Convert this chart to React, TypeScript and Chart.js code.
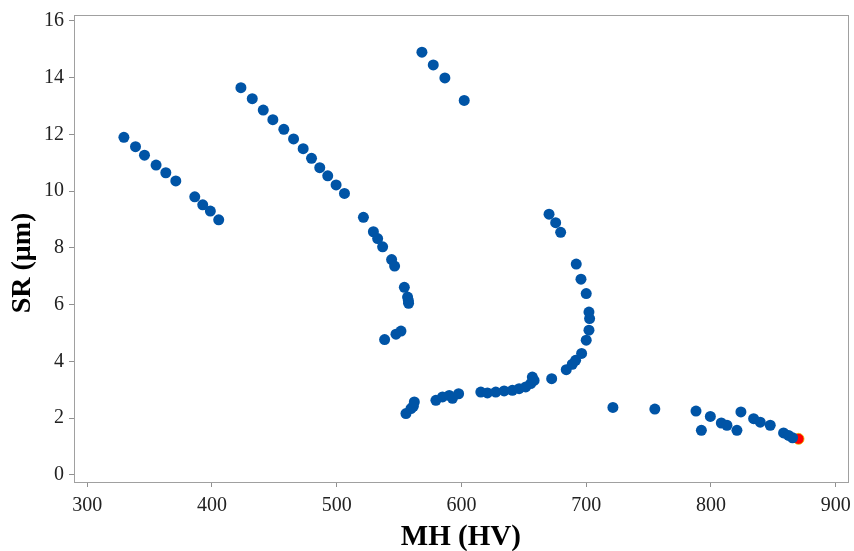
import React, { useEffect, useRef } from "react";
import { Chart, registerables } from "chart.js";

Chart.register(...registerables);

const mhValues: number[] = [
  329.4, 338.7, 345.9, 355.2, 363.0, 371.0, 386.2, 392.6, 398.7, 405.4,
  423.2, 432.3, 441.1, 448.8, 457.6, 465.4, 473.1, 479.8, 486.4, 492.8, 499.5, 506.2,
  521.4, 529.4, 532.8, 536.8, 544.0, 546.4, 554.2, 556.8, 557.4, 557.6,
  538.4, 547.5, 551.5,
  568.3, 577.4, 586.7, 602.2,
  555.5, 559.5, 561.4, 562.2,
  579.5, 584.8, 590.2, 592.8, 597.7, 615.5, 620.8, 627.5, 634.2, 640.8, 646.2, 651.5, 655.5, 656.8, 658.2,
  672.3, 684.0, 688.8, 691.5, 696.3, 700.0, 702.2, 702.7, 702.2, 700.0, 695.8, 692.0, 679.5, 675.5, 670.2,
  721.4, 755.0, 788.0, 792.3, 799.5, 808.3, 812.8, 820.8, 824.0, 834.2, 839.5, 847.5, 858.2, 862.2, 865.4,
];

const srValues: number[] = [
  11.90, 11.57, 11.27, 10.92, 10.65, 10.36, 9.80, 9.52, 9.30, 8.99,
  13.65, 13.26, 12.86, 12.52, 12.18, 11.84, 11.50, 11.16, 10.83, 10.54, 10.22, 9.92,
  9.08, 8.57, 8.33, 8.04, 7.59, 7.36, 6.61, 6.27, 6.15, 6.05,
  4.77, 4.96, 5.07,
  14.90, 14.45, 13.99, 13.20,
  2.16, 2.34, 2.42, 2.57,
  2.63, 2.75, 2.80, 2.70, 2.86, 2.92, 2.89, 2.92, 2.96, 2.98, 3.04, 3.10, 3.22, 3.45, 3.33,
  3.39, 3.71, 3.90, 4.04, 4.28, 4.75, 5.10, 5.51, 5.74, 6.39, 6.90, 7.43, 8.55, 8.89, 9.19,
  2.38, 2.32, 2.25, 1.57, 2.06, 1.83, 1.75, 1.57, 2.22, 1.98, 1.86, 1.75, 1.48, 1.39, 1.31,
];

const optimumMH: number[] = [870.2];
const optimumSR: number[] = [1.27];

const xTickValues: number[] = [300, 400, 500, 600, 700, 800, 900];
const yTickValues: number[] = [0, 2, 4, 6, 8, 10, 12, 14, 16];

const xTitle = "MH (HV)";
const yTitle = "SR (μm)";

const serif = "'Liberation Serif', 'Times New Roman', serif";

const frame = {
  id: "frame",
  afterDraw(chart: any) {
    const { ctx, chartArea } = chart;
    ctx.save();
    ctx.strokeStyle = "#a0a0a0";
    ctx.lineWidth = 1;
    ctx.strokeRect(
      Math.round(chartArea.left) + 0.5,
      Math.round(chartArea.top) + 0.5,
      Math.round(chartArea.right - chartArea.left),
      Math.round(chartArea.bottom - chartArea.top)
    );
    // y axis title
    ctx.translate(23, 263);
    ctx.rotate(-Math.PI / 2);
    ctx.fillStyle = "#000";
    ctx.font = `bold 28px ${serif}`;
    ctx.textAlign = "center";
    ctx.textBaseline = "middle";
    ctx.fillText(yTitle, 0, 0);
    ctx.restore();
  },
};

export default function App() {
  const ref = useRef<HTMLCanvasElement | null>(null);

  useEffect(() => {
    if (!ref.current) return;
    const blue = mhValues.map((x, i) => ({ x, y: srValues[i] }));
    const red = optimumMH.map((x, i) => ({ x, y: optimumSR[i] }));
    const chart = new Chart(ref.current, {
      type: "scatter",
      data: {
        datasets: [
          {
            data: blue,
            backgroundColor: "#0054a6",
            borderWidth: 0,
            pointRadius: 5.5,
          },
          {
            data: red,
            backgroundColor: "#ff0000",
            borderColor: "#e8c000",
            borderWidth: 0.8,
            pointRadius: 5.5,
          },
        ],
      },
      options: {
        responsive: false,
        animation: false,
        layout: { padding: { top: 15, right: 5, left: 0, bottom: 0 } },
        plugins: { legend: { display: false }, tooltip: { enabled: false } },
        scales: {
          x: {
            type: "linear",
            min: 289.4,
            max: 909.6,
            afterBuildTicks: (s: any) => {
              s.ticks = xTickValues.map((v) => ({ value: v }));
            },
            afterFit: (s: any) => {
              s.height = 69;
              s.paddingLeft = 0;
              s.paddingRight = 0;
            },
            grid: {
              display: true,
              drawOnChartArea: false,
              drawTicks: true,
              tickLength: 5,
              color: "#909090",
            },
            border: { display: true, color: "#a0a0a0" },
            ticks: {
              color: "#222",
              font: { family: serif, size: 20 },
              padding: 7,
              maxRotation: 0,
            },
            title: {
              display: true,
              text: xTitle,
              color: "#000",
              font: { family: serif, size: 29, weight: "bold", lineHeight: 1 },
              padding: { top: 0, bottom: -1 },
            },
          },
          y: {
            type: "linear",
            min: -0.25,
            max: 16.21,
            afterBuildTicks: (s: any) => {
              s.ticks = yTickValues.map((v) => ({ value: v }));
            },
            afterFit: (s: any) => {
              s.width = 74;
              s.paddingTop = 0;
              s.paddingBottom = 0;
            },
            grid: {
              display: true,
              drawOnChartArea: false,
              drawTicks: true,
              tickLength: 5,
              color: "#909090",
            },
            border: { display: true, color: "#a0a0a0" },
            ticks: {
              color: "#222",
              font: { family: serif, size: 20 },
              padding: 5,
            },
            title: { display: false },
          },
        },
      },
      plugins: [frame],
    });
    return () => chart.destroy();
  }, []);

  return (
    <div style={{ position: "absolute", left: 0, top: 0, width: 854, height: 551, background: "#fff" }}>
      <canvas ref={ref} width={854} height={551} style={{ display: "block" }} />
    </div>
  );
}
